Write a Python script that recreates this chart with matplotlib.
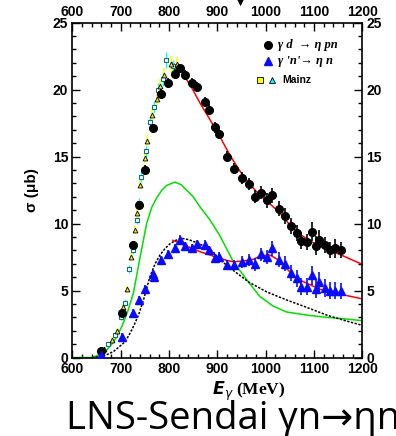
import numpy as np
import matplotlib.pyplot as plt
from matplotlib.ticker import MultipleLocator

# gamma d -> eta p n (black circles)
e_d = [660, 702, 726, 737.6, 750, 767, 782.5, 797, 812, 822, 833, 847, 857, 874, 883, 894,
       903, 920, 935, 951, 964.5, 978, 991, 1003, 1014, 1028, 1040, 1052, 1064.5, 1074,
       1084.5, 1095, 1104, 1111, 1123, 1133, 1143, 1155.5]
s_d = [0.49, 3.3, 8.4, 11.4, 14.0, 17.1, 19.7, 20.5, 21.2, 21.6, 21.1, 20.5, 20.2, 19.1, 18.5, 17.2,
       16.7, 15.0, 14.1, 13.4, 12.95, 12.0, 12.3, 11.75, 12.1, 11.1, 10.6, 9.8, 9.3, 8.7,
       8.65, 9.4, 8.35, 8.8, 8.4, 8.0, 8.15, 8.0]
d_d = [0.2, 0.25, 0.3, 0.3, 0.35, 0.35, 0.35, 0.35, 0.35, 0.35, 0.35, 0.35, 0.35, 0.35, 0.4, 0.4,
       0.4, 0.4, 0.4, 0.45, 0.45, 0.5, 0.5, 0.55, 0.55, 0.55, 0.6, 0.6, 0.6, 0.6,
       0.6, 0.7, 0.7, 0.7, 0.6, 0.6, 0.7, 0.6]

# gamma 'n' -> eta n (blue triangles)
e_n = e_d[:6] + [769] + e_d[6:]
s_n = [0.2, 1.55, 3.3, 4.3, 5.1, 6.2, 6.0, 7.3, 7.7, 8.15, 8.8, 8.3, 8.15, 8.45, 8.4, 8.0, 7.4,
       7.5, 6.9, 6.9, 7.15, 7.3, 6.95, 7.7, 7.5, 8.15, 7.3, 7.0, 6.3, 5.9, 5.3,
       5.3, 6.15, 5.15, 5.65, 5.2, 5.0, 5.0, 5.0]
d_n = [0.15, 0.25, 0.3, 0.3, 0.35, 0.35, 0.3, 0.3, 0.3, 0.3, 0.35, 0.3, 0.3, 0.3, 0.35, 0.35, 0.35,
       0.35, 0.4, 0.4, 0.45, 0.45, 0.5, 0.5, 0.55, 0.55, 0.55, 0.55, 0.6, 0.6, 0.65,
       0.65, 0.7, 0.7, 0.7, 0.65, 0.65, 0.65, 0.6]

# Mainz
e_mz_sq = [657, 674, 688, 700, 708.6, 717.5, 724.5, 733, 737, 741.7, 752, 760, 768.6, 777.5, 786.6, 793.5, 808.6]
s_mz_sq = [0.45, 1.0, 1.7, 3.05, 4.1, 6.6, 8.0, 10.3, 11.55, 13.5, 15.4, 17.6, 18.7, 20.0, 20.8, 22.2, 21.75]
e_mz_tr = [666, 681, 693, 705, 712, 721, 729, 734, 739.7, 750, 755, 765, 774, 781, 789, 803, 815.6]
s_mz_tr = [0.6, 1.3, 2.0, 3.75, 5.1, 7.5, 9.5, 10.8, 12.9, 14.9, 16.2, 18.1, 19.3, 20.3, 21.1, 21.9, 21.95]
d_mz = [0.15, 0.2, 0.2, 0.25, 0.25, 0.3, 0.3, 0.35, 0.35, 0.4, 0.4, 0.45, 0.45, 0.5, 0.5, 0.6, 0.5]

# curves
e_red_d = [808, 816, 830, 846, 864, 884, 905, 926, 947, 968, 988, 1008, 1029, 1050, 1071, 1092, 1112, 1132, 1153, 1175, 1200]
s_red_d = [22.0, 21.7, 21.1, 20.2, 19.0, 17.8, 16.5, 15.1, 13.9, 12.9, 12.1, 11.5, 10.8, 9.9, 9.2, 8.7, 8.3, 8.0, 7.7, 7.35, 6.95]
e_red_n = [808, 830, 848, 864, 885, 905, 920, 933, 953, 974, 991, 1008.6, 1026, 1043, 1064, 1084.5, 1112, 1135, 1153, 1175, 1200]
s_red_n = [8.75, 8.4, 8.15, 7.9, 7.65, 7.4, 7.25, 7.15, 7.2, 7.33, 7.6, 7.65, 7.3, 6.65, 5.9, 5.55, 5.1, 4.9, 4.74, 4.57, 4.38]
e_green = [600, 640, 655, 671, 686, 702, 714, 726, 740, 753.5, 764, 774, 785, 795, 812, 825, 836, 850, 864, 884, 905,
           933, 964, 988, 1015, 1043, 1084.5, 1126, 1160, 1200]
s_green = [0.0, 0.0, 0.2, 0.56, 1.2, 2.3, 3.4, 4.8, 7.5, 10.0, 11.2, 11.9, 12.5, 12.85, 13.1, 12.9, 12.5, 12.0, 11.25, 10.3, 9.1,
           7.15, 5.65, 4.55, 3.85, 3.4, 3.17, 3.0, 2.9, 2.75]
e_black = [640, 664, 685, 705, 716, 726, 737, 747, 760, 771, 781, 792, 802, 814, 826, 841, 857, 874, 891, 905,
           933, 964, 1002, 1043, 1084.5, 1126, 1160, 1200]
s_black = [0.0, 0.1, 0.45, 1.05, 1.6, 2.3, 3.2, 4.3, 6.0, 7.0, 7.65, 8.15, 8.5, 8.75, 8.9, 8.8, 8.57, 8.3, 7.9, 7.3,
           6.5, 5.65, 4.9, 4.3, 3.75, 3.17, 2.8, 2.4]

plt.rcParams['font.family'] = ['Liberation Sans', 'DejaVu Sans']
fig = plt.figure(figsize=(3.96, 4.36), dpi=100)
ax = fig.add_axes([0.183, 0.18, 0.732, 0.768])

ax.plot(e_green, s_green, color='#00e000', lw=1.1, zorder=2)
ax.plot(e_black, s_black, color='black', lw=1.1, ls=(0, (1.5, 1)), zorder=2)
ax.plot(e_red_d, s_red_d, color='red', lw=1.1, zorder=2)
ax.plot(e_red_n, s_red_n, color='red', lw=1.1, zorder=2)

ax.errorbar(e_mz_sq, s_mz_sq, yerr=d_mz, fmt='s', ms=3, mfc='white', mec='#10707a', mew=0.8,
            ecolor='cyan', elinewidth=1, capsize=0, zorder=3)
ax.errorbar(e_mz_tr, s_mz_tr, yerr=d_mz, fmt='^', ms=3.5, mfc='#e8e040', mec='black', mew=0.6,
            ecolor='yellow', elinewidth=1.2, capsize=0, zorder=3)
ax.errorbar(e_d, s_d, yerr=d_d, fmt='o', ms=5.5, color='black', elinewidth=1.2, capsize=0, zorder=4)
ax.errorbar(e_n, s_n, yerr=d_n, fmt='^', ms=6, color='#0a0aff', elinewidth=1.2, capsize=0, zorder=4)

ax.set_xlim(600, 1200)
ax.set_ylim(0, 25)
ax.xaxis.set_major_locator(MultipleLocator(100))
ax.xaxis.set_minor_locator(MultipleLocator(20))
ax.yaxis.set_major_locator(MultipleLocator(5))
ax.yaxis.set_minor_locator(MultipleLocator(1))
ax.tick_params(which='both', direction='in', top=True, right=True, labeltop=True, labelright=True,
               labelsize=10, width=1, pad=3)
ax.tick_params(which='major', length=6)
ax.tick_params(which='minor', length=3)
for lab in ax.get_xticklabels() + ax.get_yticklabels():
    lab.set_fontweight('bold')
for sp in ax.spines.values():
    sp.set_linewidth(1.2)

ax.set_ylabel('σ (μb)', fontsize=11, fontweight='bold', labelpad=10)
fig.text(249 / 396, 0.103, r'$\boldsymbol{E}_{\gamma}$ (MeV)', ha='center', va='center',
         fontsize=12.5, fontweight='bold', family='Liberation Serif')

# legend
ax.plot([0.674], [0.933], 'o', ms=5.5, color='black', transform=ax.transAxes, clip_on=False)
ax.text(0.71, 0.933, 'γ d  → η pn', transform=ax.transAxes, fontsize=9, fontweight='bold',
        style='italic', family='Liberation Serif', va='center')
ax.plot([0.674], [0.885], '^', ms=6, color='#0a0aff', transform=ax.transAxes, clip_on=False)
ax.text(0.71, 0.885, "γ 'n'→ η n", transform=ax.transAxes, fontsize=9, fontweight='bold',
        style='italic', family='Liberation Serif', va='center')
ax.plot([0.647], [0.828], 's', ms=5, mfc='yellow', mec='black', mew=0.6, transform=ax.transAxes)
ax.plot([0.688], [0.828], '^', ms=5, mfc='cyan', mec='black', mew=0.6, transform=ax.transAxes)
ax.text(0.722, 0.828, 'Mainz', transform=ax.transAxes, fontsize=7.5, fontweight='bold', va='center')

fig.text(240 / 396, 0.997, '▼', ha='center', va='center', fontsize=11, color='black')
fig.text(66 / 396, 0.016, 'LNS-Sendai γn→ηn', ha='left', va='baseline', fontsize=27.5,
         family=['Open Sans', 'DejaVu Sans'])

fig.savefig('out.png', dpi=100)
